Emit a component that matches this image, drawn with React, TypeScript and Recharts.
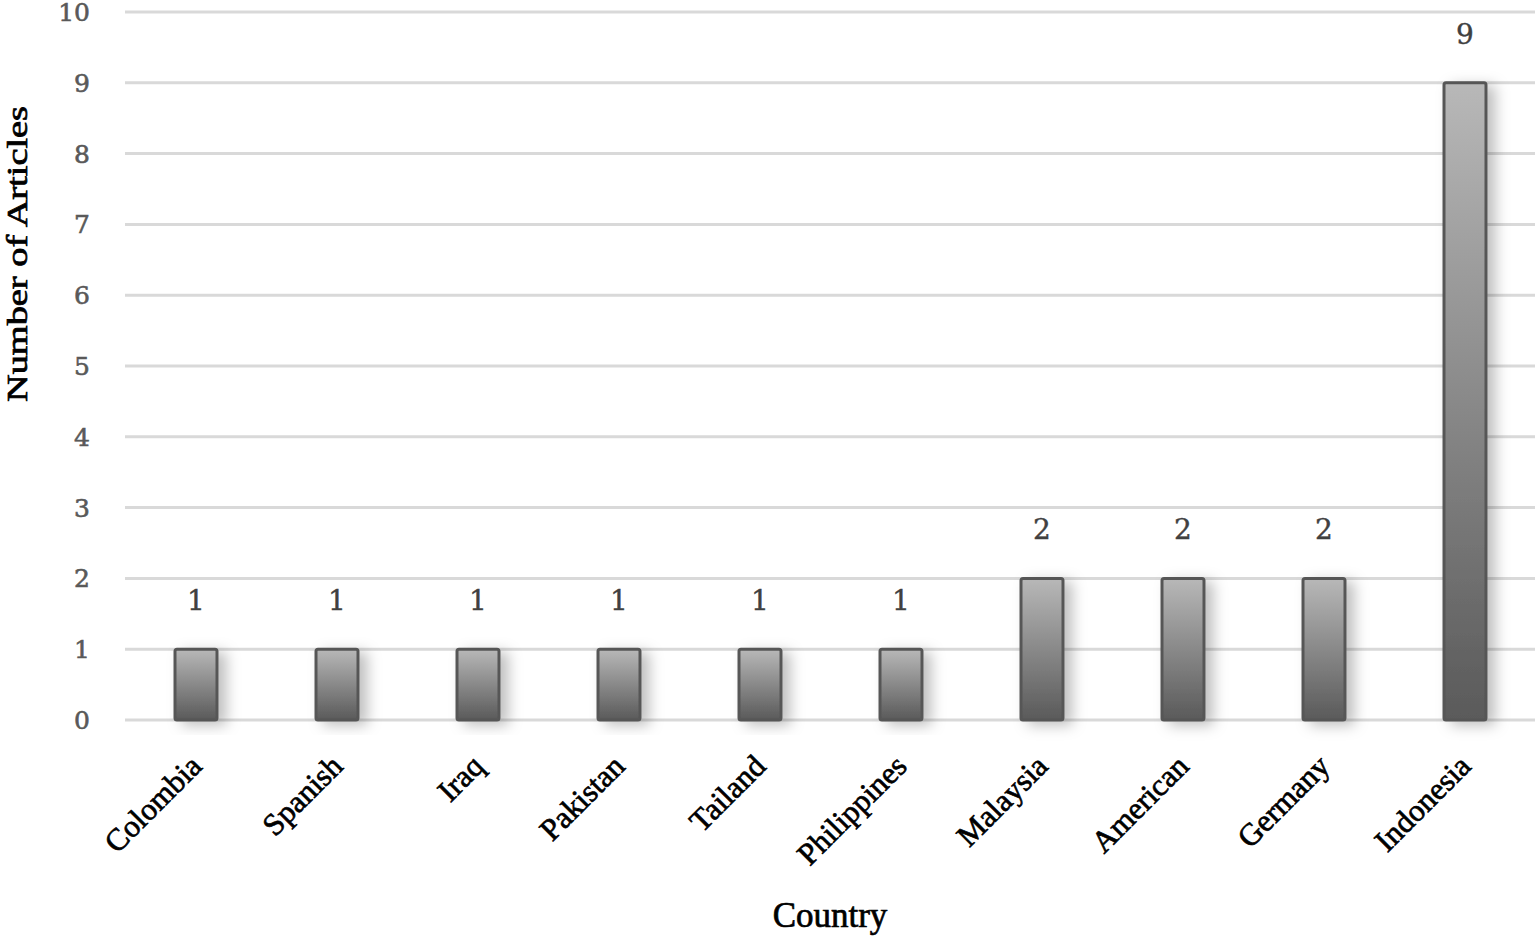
import { BarChart, Bar, XAxis, YAxis, CartesianGrid, LabelList, Label } from "recharts";

const countries = [
  "Colombia",
  "Spanish",
  "Iraq",
  "Pakistan",
  "Tailand",
  "Philippines",
  "Malaysia",
  "American",
  "Germany",
  "Indonesia",
];
const articles = [1, 1, 1, 1, 1, 1, 2, 2, 2, 9];
const yTicks = [0, 1, 2, 3, 4, 5, 6, 7, 8, 9, 10];

const data = countries.map((c, i) => ({ country: c, articles: articles[i] }));

const SERIF = "'Liberation Serif', 'Times New Roman', serif";
const NUM_FONT = "'DejaVu Serif', serif";

const CountryTick = (props: any) => {
  const { x, y, payload } = props;
  return (
    <text
      transform={`translate(${x + 8}, ${y + 48}) rotate(-45)`}
      textAnchor="end"
      fontFamily={SERIF}
      fontSize={31}
      fill="#000"
      stroke="#000"
      strokeWidth={0.7}
    >
      {payload.value}
    </text>
  );
};

const NumTick = (props: any) => {
  const { x, y, payload } = props;
  return (
    <text
      x={x}
      y={y}
      dy="0.36em"
      textAnchor="end"
      fontFamily={NUM_FONT}
      fontSize={25}
      fill="#595959"
      stroke="#595959"
      strokeWidth={0.6}
    >
      {payload.value}
    </text>
  );
};

const BarShape = (props: any) => {
  const { x, y, width, height } = props;
  return (
    <rect
      x={x}
      y={y}
      width={width}
      height={height}
      rx={2}
      fill="url(#barGrad)"
      stroke="#575757"
      strokeWidth={3}
      filter="url(#barShadow)"
    />
  );
};

const ValueLabel = (props: any) => {
  const { x, y, width, value } = props;
  return (
    <text
      x={x + width / 2}
      y={y - 39}
      textAnchor="middle"
      fontFamily={NUM_FONT}
      fontSize={28}
      fill="#404040"
      stroke="#404040"
      strokeWidth={0.4}
    >
      {value}
    </text>
  );
};

export default function App() {
  return (
    <div style={{ position: "absolute", left: 0, top: 0, width: 1535, height: 941, background: "#fff" }}>
      <BarChart
        width={1535}
        height={941}
        data={data}
        margin={{ top: 12, right: 0, left: 0, bottom: 0 }}
        barSize={42}
      >
        <defs>
          <linearGradient id="barGrad" x1="0" y1="0" x2="0" y2="1">
            <stop offset="0%" stopColor="#b8b8b8" />
            <stop offset="100%" stopColor="#5a5a5a" />
          </linearGradient>
          <filter id="barShadow" x="-60%" y="-20%" width="260%" height="140%">
            <feDropShadow dx={8} dy={4} stdDeviation={7} floodColor="#000" floodOpacity={0.25} />
          </filter>
        </defs>
        <CartesianGrid vertical={false} stroke="#d9d9d9" strokeWidth={3} />
        <XAxis
          dataKey="country"
          axisLine={false}
          tickLine={false}
          tickSize={0}
          tickMargin={0}
          height={221}
          interval={0}
          tick={<CountryTick />}
        >
          <Label
            content={(p: any) => {
              const vb = p.viewBox;
              return (
                <text
                  x={vb.x + vb.width / 2}
                  y={927}
                  textAnchor="middle"
                  fontFamily={SERIF}
                  fontSize={35}
                  fill="#000"
                  stroke="#000"
                  strokeWidth={0.7}
                >
                  Country
                </text>
              );
            }}
          />
        </XAxis>
        <YAxis
          domain={[0, 10]}
          ticks={yTicks}
          width={125}
          axisLine={false}
          tickLine={false}
          tickSize={0}
          tickMargin={35}
          tick={<NumTick />}
        >
          <Label
            content={() => (
              <text
                transform="translate(27, 254) rotate(-90)"
                textAnchor="middle"
                fontFamily={SERIF}
                fontSize={29}
                textLength={296}
                lengthAdjust="spacingAndGlyphs"
                fill="#000"
                stroke="#000"
                strokeWidth={0.7}
              >
                Number of Articles
              </text>
            )}
          />
        </YAxis>
        <Bar dataKey="articles" shape={<BarShape />} isAnimationActive={false}>
          <LabelList dataKey="articles" content={<ValueLabel />} />
        </Bar>
      </BarChart>
    </div>
  );
}
